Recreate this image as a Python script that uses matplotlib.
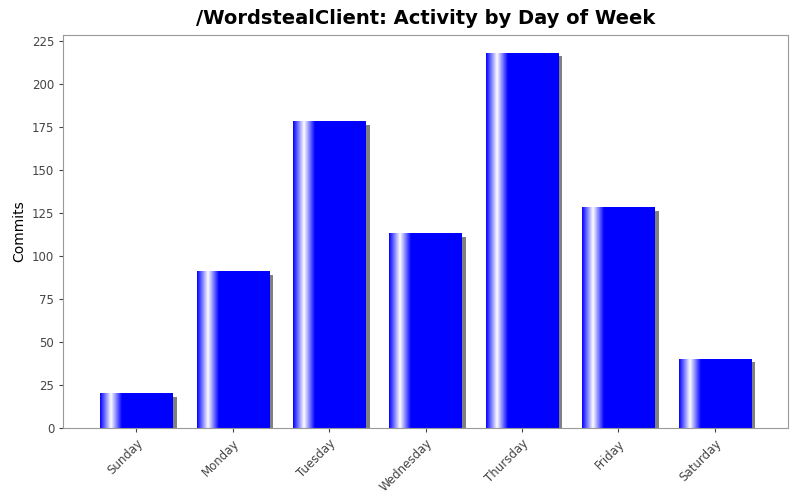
import numpy as np
import matplotlib.pyplot as plt
from matplotlib.colors import LinearSegmentedColormap

days = ['Sunday', 'Monday', 'Tuesday', 'Wednesday', 'Thursday', 'Friday', 'Saturday']
commits = [20, 91, 178, 113, 218, 128, 40]

fig = plt.figure(figsize=(8, 5), dpi=100)
ax = fig.add_axes([0.079, 0.144, 0.906, 0.786])

width = 0.75
grad = LinearSegmentedColormap.from_list('g', [(0, '#0000ff'), (0.15, '#ffffff'), (0.3, '#0000ff'), (1, '#0000ff')])
row = np.linspace(0, 1, 256).reshape(1, -1)

for i, v in enumerate(commits):
    # shadow
    ax.bar(i + 0.045, v - 1.8, width=width, color='#808080', align='center', zorder=1)
    x0 = i - width / 2
    ax.imshow(row, cmap=grad, aspect='auto', extent=(x0, x0 + width, 0, v), zorder=2, interpolation='bicubic')

ax.set_xlim(-0.76, 6.76)
ax.set_ylim(0, 228.5)
ax.set_yticks(range(0, 226, 25))
ax.set_xticks(range(len(days)))
ax.set_xticklabels(days, rotation=45, ha='right', rotation_mode='anchor')
ax.tick_params(labelsize=8.5, colors='#444444', length=3)
ax.set_ylabel('Commits', fontsize=10)
for s in ax.spines.values():
    s.set_color('#999999')
ax.set_title('/WordstealClient: Activity by Day of Week', fontsize=14, fontweight='bold', pad=8)

fig.savefig('out.png')
